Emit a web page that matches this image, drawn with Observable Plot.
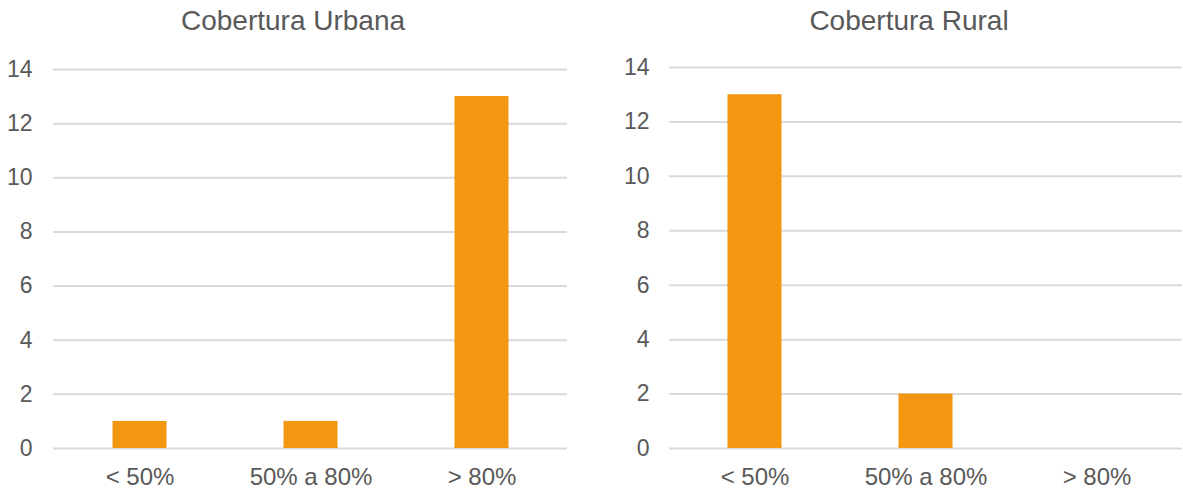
<!DOCTYPE html>
<html>
<head>
<meta charset="utf-8">
<script src="https://cdn.jsdelivr.net/npm/d3@7"></script>
<script src="https://cdn.jsdelivr.net/npm/@observablehq/plot@0.6"></script>
<style>
  html, body { margin: 0; padding: 0; background: #fff; }
  #wrap { position: relative; width: 1183px; height: 491px; overflow: hidden; font-family: "Liberation Sans", Arial, sans-serif; }
  .title { position: absolute; top: 7px; font-size: 28px; color: #595959; white-space: nowrap; transform: translateX(-50%); line-height: 1; }
  .panel { position: absolute; top: 0; }
</style>
</head>
<body>
<div id="wrap"></div>
<script>
const categories = ["< 50%", "50% a 80%", "> 80%"];
const urbanValues = [1, 1, 13];
const ruralValues = [13, 2, 0];
const yTicks = [0, 2, 4, 6, 8, 10, 12, 14];
const titles = ["Cobertura Urbana", "Cobertura Rural"];

const barColor = "#f39611";
const textColor = "#595959";
const gridColor = "#d9d9d9";

function panel(values, opts) {
  const data = categories.map((c, i) => ({cat: c, value: values[i]}));
  return Plot.plot({
    width: opts.width,
    height: 491,
    marginLeft: opts.marginLeft,
    marginRight: opts.marginRight,
    marginTop: opts.marginTop,
    marginBottom: 43,
    style: {fontFamily: '"Liberation Sans", Arial, sans-serif', color: textColor, background: "transparent"},
    x: {domain: categories, padding: 0, label: null},
    y: {domain: [0, 14], label: null},
    marks: [
      Plot.gridY(yTicks, {stroke: gridColor, strokeOpacity: 1, strokeWidth: 2}),
      Plot.barY(data, {x: "cat", y: "value", fill: barColor, insetLeft: 58.5, insetRight: 58.5}),
      Plot.axisY(yTicks, {tickSize: 0, tickPadding: opts.yPad, fontSize: 23, fill: textColor, label: null}),
      Plot.axisX({tickSize: 0, tickPadding: 19, fontSize: 24, fill: textColor, label: null})
    ]
  });
}

const wrap = document.getElementById("wrap");

const left = panel(urbanValues, {width: 590, marginLeft: 53, marginRight: 23, marginTop: 69, yPad: 21});
left.classList.add("panel");
left.style.left = "0px";
wrap.appendChild(left);

const right = panel(ruralValues, {width: 593, marginLeft: 79, marginRight: 1, marginTop: 67, yPad: 20});
right.classList.add("panel");
right.style.left = "590px";
wrap.appendChild(right);

[[titles[0], 293], [titles[1], 909]].forEach(([t, cx]) => {
  const d = document.createElement("div");
  d.className = "title";
  d.textContent = t;
  d.style.left = cx + "px";
  wrap.appendChild(d);
});
</script>
</body>
</html>
